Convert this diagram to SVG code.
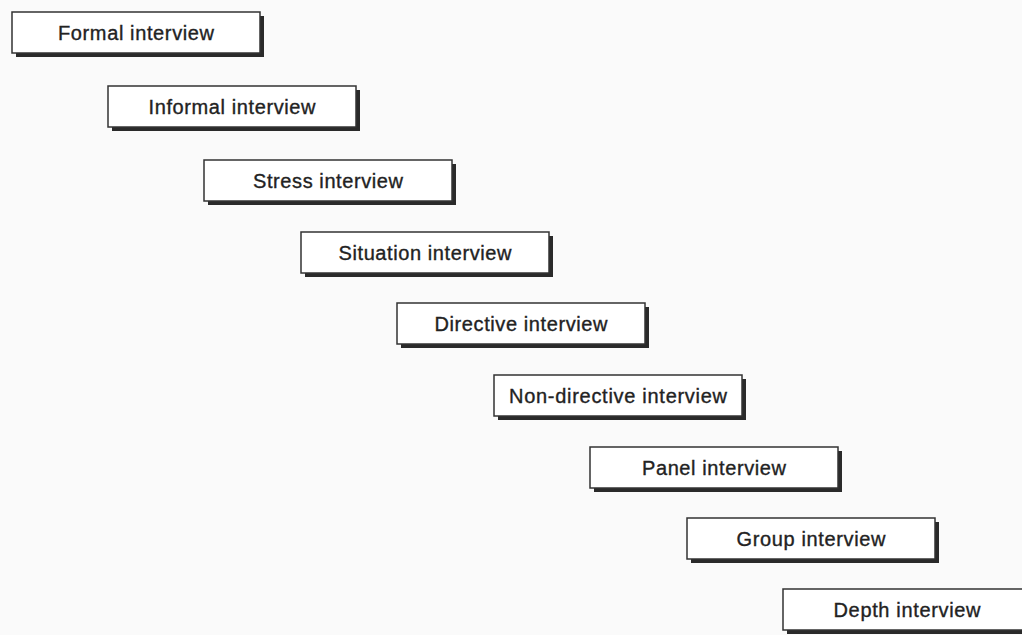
<svg xmlns="http://www.w3.org/2000/svg" width="1022" height="635" viewBox="0 0 1022 635">
<style>
.sh{fill:#2a2a2a}
.bx{fill:#fff;stroke:#333;stroke-width:1.5}
.t{font-family:"Liberation Sans",Arial,sans-serif;font-size:20px;fill:#222;stroke:#222;stroke-width:0.35;text-anchor:middle}
</style>
<rect width="1022" height="635" fill="#fafafa"/>
<g id="connectors"></g>
<g id="n1"><rect class="sh" x="16" y="16" width="248" height="41"/><rect class="bx" x="12" y="12" width="248" height="41"/><text class="t" x="136" y="40" textLength="156">Formal interview</text></g>
<g id="n2"><rect class="sh" x="112" y="90" width="248" height="41"/><rect class="bx" x="108" y="86" width="248" height="41"/><text class="t" x="232" y="114" textLength="167">Informal interview</text></g>
<g id="n3"><rect class="sh" x="208" y="164" width="248" height="41"/><rect class="bx" x="204" y="160" width="248" height="41"/><text class="t" x="328" y="188" textLength="150">Stress interview</text></g>
<g id="n4"><rect class="sh" x="305" y="236" width="248" height="41"/><rect class="bx" x="301" y="232" width="248" height="41"/><text class="t" x="425" y="260" textLength="173">Situation interview</text></g>
<g id="n5"><rect class="sh" x="401" y="307" width="248" height="41"/><rect class="bx" x="397" y="303" width="248" height="41"/><text class="t" x="521" y="331" textLength="173">Directive interview</text></g>
<g id="n6"><rect class="sh" x="498" y="379" width="248" height="41"/><rect class="bx" x="494" y="375" width="248" height="41"/><text class="t" x="618" y="403" textLength="218">Non-directive interview</text></g>
<g id="n7"><rect class="sh" x="594" y="451" width="248" height="41"/><rect class="bx" x="590" y="447" width="248" height="41"/><text class="t" x="714" y="475" textLength="144">Panel interview</text></g>
<g id="n8"><rect class="sh" x="691" y="522" width="248" height="41"/><rect class="bx" x="687" y="518" width="248" height="41"/><text class="t" x="811" y="546" textLength="149">Group interview</text></g>
<g id="n9"><rect class="sh" x="787" y="593" width="248" height="41"/><rect class="bx" x="783" y="589" width="248" height="41"/><text class="t" x="907" y="617" textLength="147">Depth interview</text></g>
</svg>
